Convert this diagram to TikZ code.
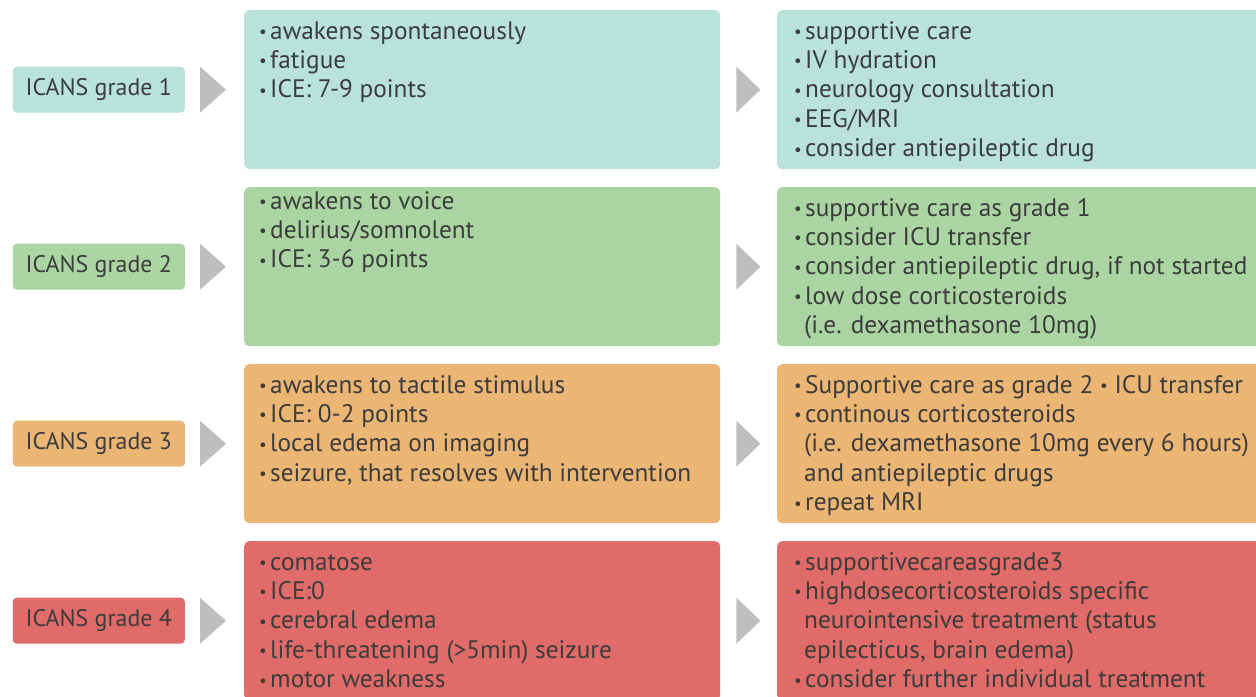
\documentclass[tikz,border=0pt]{standalone}
\usepackage{fontspec}
\setmainfont{PT Sans}
\usetikzlibrary{positioning}
\definecolor{gradeone}{HTML}{B9E2DA}
\definecolor{gradetwo}{HTML}{AAD5A3}
\definecolor{gradethree}{HTML}{EBB574}
\definecolor{gradefour}{HTML}{E06B69}
\definecolor{chevron}{HTML}{BDBEC0}
\definecolor{ink}{HTML}{3C3C3C}
\newcommand{\smallbullet}{\raisebox{1.6bp}{\fontsize{17}{17}\selectfont\textbullet}}
\newcommand{\itm}{\strut\makebox[12bp][l]{\hspace{1bp}\smallbullet}}
\newcommand{\cont}{\hspace*{11bp}}

\begin{document}
\begin{tikzpicture}[x=1bp,y=-1bp,
    font=\fontsize{25.4}{29.5}\selectfont,
    gradebox/.style={fill=#1, rounded corners=4bp, minimum width=172bp, minimum height=46bp, inner sep=0pt, text=ink,
        font=\fontsize{24}{29.5}\selectfont},
    panel/.style={fill=#1, rounded corners=5bp, minimum height=159bp, inner sep=0pt, anchor=north west},
    items/.style={align=left, inner sep=0pt, text=ink}]
    \useasboundingbox (0,0) rectangle (1256,697);
    \clip (0,0) rectangle (1256,697);

    % Panels, grade boxes and chevrons
    \foreach \row/\col in {1/gradeone,2/gradetwo,3/gradethree,4/gradefour} {
        \node[panel=\col, minimum width=476bp] (sym\row) at (244,{10+177*(\row-1)}) {};
        \node[panel=\col, minimum width=520bp] (mgt\row) at (777,{10+177*(\row-1)}) {};
        \node[gradebox=\col, left=59bp of sym\row.west] (g\row) {ICANS grade \row};
        \fill[chevron] ([xshift=15bp]g\row.east) ++(0,-23) -- ++(26,23) -- ++(-26,23) -- cycle;
        \fill[chevron] ([xshift=16bp]sym\row.east) ++(0,-23) -- ++(24,23) -- ++(-24,23) -- cycle;
    }

    % Symptoms
    \node[items, below right=8.3bp and 14bp of sym1.north west] (s1)
        {\itm awakens spontaneously\\ \itm fatigue\\ \itm ICE: 7-9 points};
    \node[items, below right=1.3bp and 14bp of sym2.north west] (s2)
        {\itm awakens to voice\\ \itm delirius/somnolent\\ \itm ICE: 3-6 points};
    \node[items, below right=8.3bp and 14bp of sym3.north west] (s3)
        {\itm awakens to tactile stimulus\\ \itm ICE: 0-2 points\\ \itm local edema on imaging\\
         \itm seizure, that resolves with intervention};
    \node[items, below right=8.3bp and 14bp of sym4.north west] (s4)
        {\itm comatose\\ \itm ICE:0\\ \itm cerebral edema\\ \itm life-threatening (>5min) seizure\\
         \itm motor weakness};

    % Management
    \node[items, below right=8.3bp and 16bp of mgt1.north west] (m1)
        {\itm supportive care\\ \itm IV hydration\\ \itm neurology consultation\\ \itm EEG/MRI\\
         \itm consider antiepileptic drug};
    \node[items, below right=8.3bp and 16bp of mgt2.north west] (m2)
        {\itm supportive care as grade 1\\ \itm consider ICU transfer\\
         \itm consider antiepileptic drug, if not started\\ \itm low dose corticosteroids\\
         \cont(i.e. dexamethasone 10mg)};
    \node[items, below right=8.3bp and 16bp of mgt3.north west] (m3)
        {\itm Supportive care as grade 2 \smallbullet{} ICU transfer\\ \itm continous corticosteroids\\
         \cont(i.e. dexamethasone 10mg every 6 hours)\\ \cont and antiepileptic drugs\\ \itm repeat MRI};
    \node[items, below right=8.3bp and 16bp of mgt4.north west] (m4)
        {\itm supportivecareasgrade3\\ \itm highdosecorticosteroids specific\\
         \cont neurointensive treatment (status\\ \cont epilecticus, brain edema)\\
         \itm consider further individual treatment};
\end{tikzpicture}
\end{document}
